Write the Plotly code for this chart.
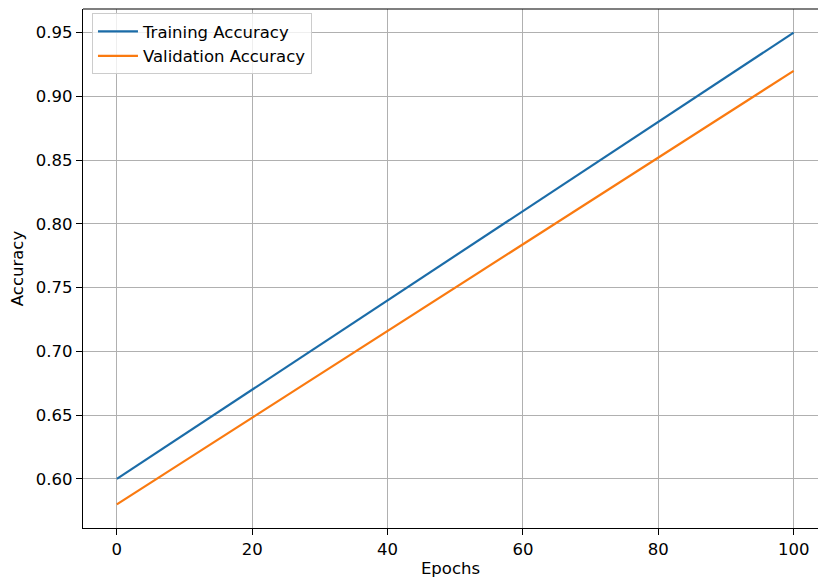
import plotly.graph_objects as go

epochs = [0, 100]
train_acc = [0.60, 0.95]
val_acc = [0.58, 0.92]
x_ticks = [0, 20, 40, 60, 80, 100]
y_ticks = [0.60, 0.65, 0.70, 0.75, 0.80, 0.85, 0.90, 0.95]

FONT = "DejaVu Sans"
FS = 16.5

fig = go.Figure()
fig.add_trace(go.Scatter(x=epochs, y=train_acc, mode="lines", name="Training Accuracy",
                         line=dict(color="#1b6ca8", width=2.2)))
fig.add_trace(go.Scatter(x=epochs, y=val_acc, mode="lines", name="Validation Accuracy",
                         line=dict(color="#fa7a10", width=2.2)))

axis_common = dict(
    showgrid=True, gridcolor="#b0b0b0", gridwidth=1.2,
    showline=True, linecolor="black", linewidth=1.2,
    ticks="outside", ticklen=6, tickwidth=1.2, tickcolor="black",
    zeroline=False,
    tickfont=dict(family=FONT, size=FS, color="black"),
)

fig.update_xaxes(range=[-5, 103.6], tickvals=x_ticks, ticktext=[str(v) for v in x_ticks],
                 title=dict(text="Epochs", font=dict(family=FONT, size=FS, color="black"), standoff=6),
                 **axis_common)
fig.update_yaxes(range=[0.5615, 0.9685], tickvals=y_ticks, ticktext=[f"{v:.2f}" for v in y_ticks],
                 title=dict(text="Accuracy", font=dict(family=FONT, size=FS, color="black"), standoff=8),
                 **axis_common)

# top spine (right spine is cropped out of view)
fig.add_shape(type="line", xref="paper", yref="paper", x0=0, x1=1, y0=1, y1=1,
              line=dict(color="black", width=1.2))

fig.update_layout(
    width=818, height=578,
    margin=dict(l=83, r=0, t=9, b=50),
    paper_bgcolor="white", plot_bgcolor="white",
    font=dict(family=FONT, size=FS, color="black"),
    showlegend=True,
    legend=dict(x=0.0122, y=0.992, xanchor="left", yanchor="top",
                bgcolor="rgba(255,255,255,0.8)", bordercolor="#cccccc", borderwidth=1,
                font=dict(family=FONT, size=FS, color="black"),
                itemwidth=40, tracegroupgap=0),
)

post = ("document.documentElement.style.margin='0';"
        "document.documentElement.style.overflow='hidden';"
        "document.body.style.margin='0';"
        "document.body.style.overflow='hidden';")

fig.write_html("out.html", post_script=post, config={"displayModeBar": False})
